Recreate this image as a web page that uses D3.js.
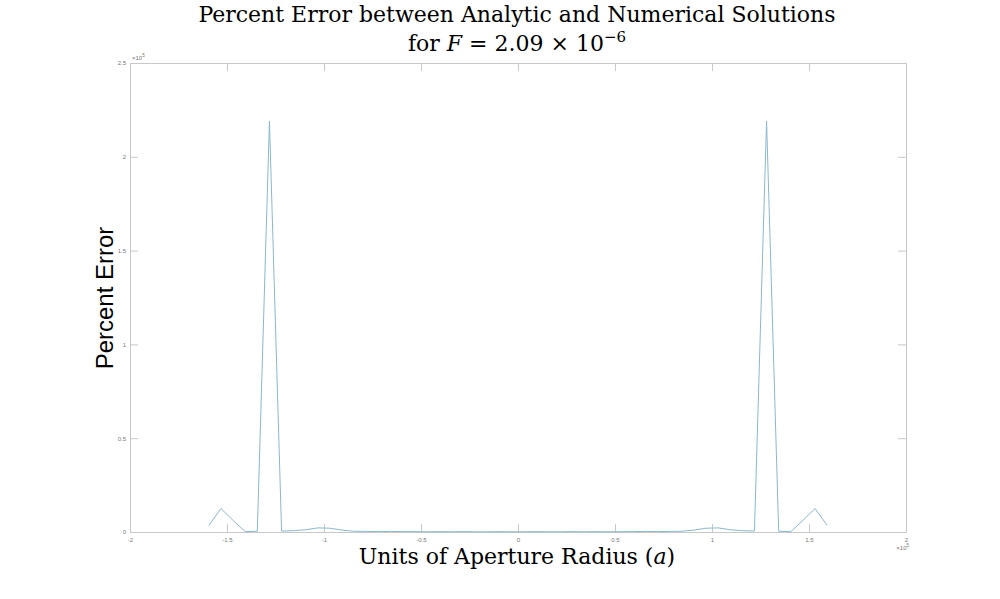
<!DOCTYPE html>
<html>
<head>
<meta charset="utf-8">
<script src="https://cdn.jsdelivr.net/npm/d3@7"></script>
<style>
  body { margin: 0; background: #fff; }
  svg { display: block; }
</style>
</head>
<body>
<div id="chart"></div>
<script>
// sample positions (units of aperture radius)
var xValues = [
  -1.59375, -1.53125, -1.46875, -1.40625, -1.34375, -1.28125, -1.21875, -1.15625,
  -1.09375, -1.03125, -0.96875, -0.90625, -0.84375, -0.78125, -0.71875, -0.65625,
  -0.59375, -0.53125, -0.46875, -0.40625, -0.34375, -0.28125, -0.21875, -0.15625,
  -0.09375, -0.03125, 0.03125, 0.09375, 0.15625, 0.21875, 0.28125, 0.34375,
  0.40625, 0.46875, 0.53125, 0.59375, 0.65625, 0.71875, 0.78125, 0.84375,
  0.90625, 0.96875, 1.03125, 1.09375, 1.15625, 1.21875, 1.28125, 1.34375,
  1.40625, 1.46875, 1.53125, 1.59375
];
// percent error (x 10^5)
var errValues = [
  0.035, 0.125, 0.062, 0.002, 0.004, 2.19, 0.005, 0.007,
  0.012, 0.022, 0.02, 0.01, 0.004, 0.003, 0.002, 0.003,
  0.002, 0.002, 0.001, 0.002, 0.001, 0.002, 0.001, 0.001,
  0.002, 0.001, 0.001, 0.002, 0.001, 0.001, 0.002, 0.001,
  0.002, 0.001, 0.002, 0.002, 0.003, 0.002, 0.003, 0.004,
  0.01, 0.02, 0.022, 0.012, 0.007, 0.005, 2.19, 0.004,
  0.002, 0.062, 0.125, 0.035
];
var xTicks = [-2, -1.5, -1, -0.5, 0, 0.5, 1, 1.5, 2];
var yTicks = [0, 0.5, 1, 1.5, 2, 2.5];

var W = 1000, H = 599;
var margin = {top: 63, right: 94, bottom: 67, left: 130};
var w = W - margin.left - margin.right;
var h = H - margin.top - margin.bottom;

var svg = d3.select("#chart").append("svg")
    .attr("width", W)
    .attr("height", H);

var g = svg.append("g")
    .attr("transform", "translate(" + margin.left + "," + margin.top + ")");

var x = d3.scaleLinear().domain([-2, 2]).range([0, w]);
var y = d3.scaleLinear().domain([0, 2.5]).range([h, 0]);

var tickFmt = function(d) { return d === 0 ? "0" : String(d); };

// axes: ticks point inward, on all four sides
var axB = g.append("g").attr("transform", "translate(0," + h + ")")
    .call(d3.axisBottom(x).tickValues(xTicks).tickSize(-8).tickPadding(6).tickFormat(tickFmt));
var axT = g.append("g")
    .call(d3.axisTop(x).tickValues(xTicks).tickSize(-8).tickFormat(""));
var axL = g.append("g")
    .call(d3.axisLeft(y).tickValues(yTicks).tickSize(-8).tickPadding(4).tickFormat(tickFmt));
var axR = g.append("g").attr("transform", "translate(" + w + ",0)")
    .call(d3.axisRight(y).tickValues(yTicks).tickSize(-8).tickFormat(""));

[axB, axT, axL, axR].forEach(function(a) {
  a.select(".domain").attr("stroke", "#c8c8c8");
  a.selectAll(".tick line").attr("stroke", "#c8c8c8");
  a.selectAll(".tick text")
    .attr("fill", "#777")
    .style("font-family", "Liberation Sans, Arial, sans-serif")
    .style("font-size", "6px");
});

// exponent labels
g.append("text")
    .attr("x", 2).attr("y", -3)
    .style("font-family", "Liberation Sans, Arial, sans-serif")
    .style("font-size", "6px").attr("fill", "#777")
    .html("\u00d710<tspan dy='-3' font-size='4.5px'>5</tspan>");
g.append("text")
    .attr("x", w + 3).attr("y", h + 18)
    .attr("text-anchor", "end")
    .style("font-family", "Liberation Sans, Arial, sans-serif")
    .style("font-size", "6px").attr("fill", "#777")
    .html("\u00d710<tspan dy='-3' font-size='4.5px'>5</tspan>");

// the error curve
var pts = xValues.map(function(v, i) { return [v, errValues[i]]; });
var line = d3.line()
    .x(function(d) { return x(d[0]); })
    .y(function(d) { return y(d[1]); });

g.append("path")
    .datum(pts)
    .attr("d", line)
    .attr("fill", "none")
    .attr("stroke", "#8ab8cf")
    .attr("stroke-width", 1);

// titles
var serif = "DejaVu Serif, Liberation Serif, serif";
svg.append("text")
    .attr("x", 517).attr("y", 22)
    .attr("text-anchor", "middle")
    .style("font-family", serif).style("font-size", "22px")
    .text("Percent Error between Analytic and Numerical Solutions");
svg.append("text")
    .attr("x", 517).attr("y", 51)
    .attr("text-anchor", "middle")
    .style("font-family", serif).style("font-size", "22px")
    .html("for <tspan font-style='italic'>F</tspan> = 2.09 \u00d7 10<tspan dy='-9' font-size='15px'>\u22126</tspan>");

svg.append("text")
    .attr("x", 517).attr("y", 564)
    .attr("text-anchor", "middle")
    .style("font-family", serif).style("font-size", "22px")
    .html("Units of Aperture Radius (<tspan font-style='italic'>a</tspan>)");

svg.append("text")
    .attr("transform", "translate(113,298) rotate(-90)")
    .attr("text-anchor", "middle")
    .style("font-family", "Liberation Sans, Arial, sans-serif")
    .style("font-size", "24px")
    .text("Percent Error");
</script>
</body>
</html>
